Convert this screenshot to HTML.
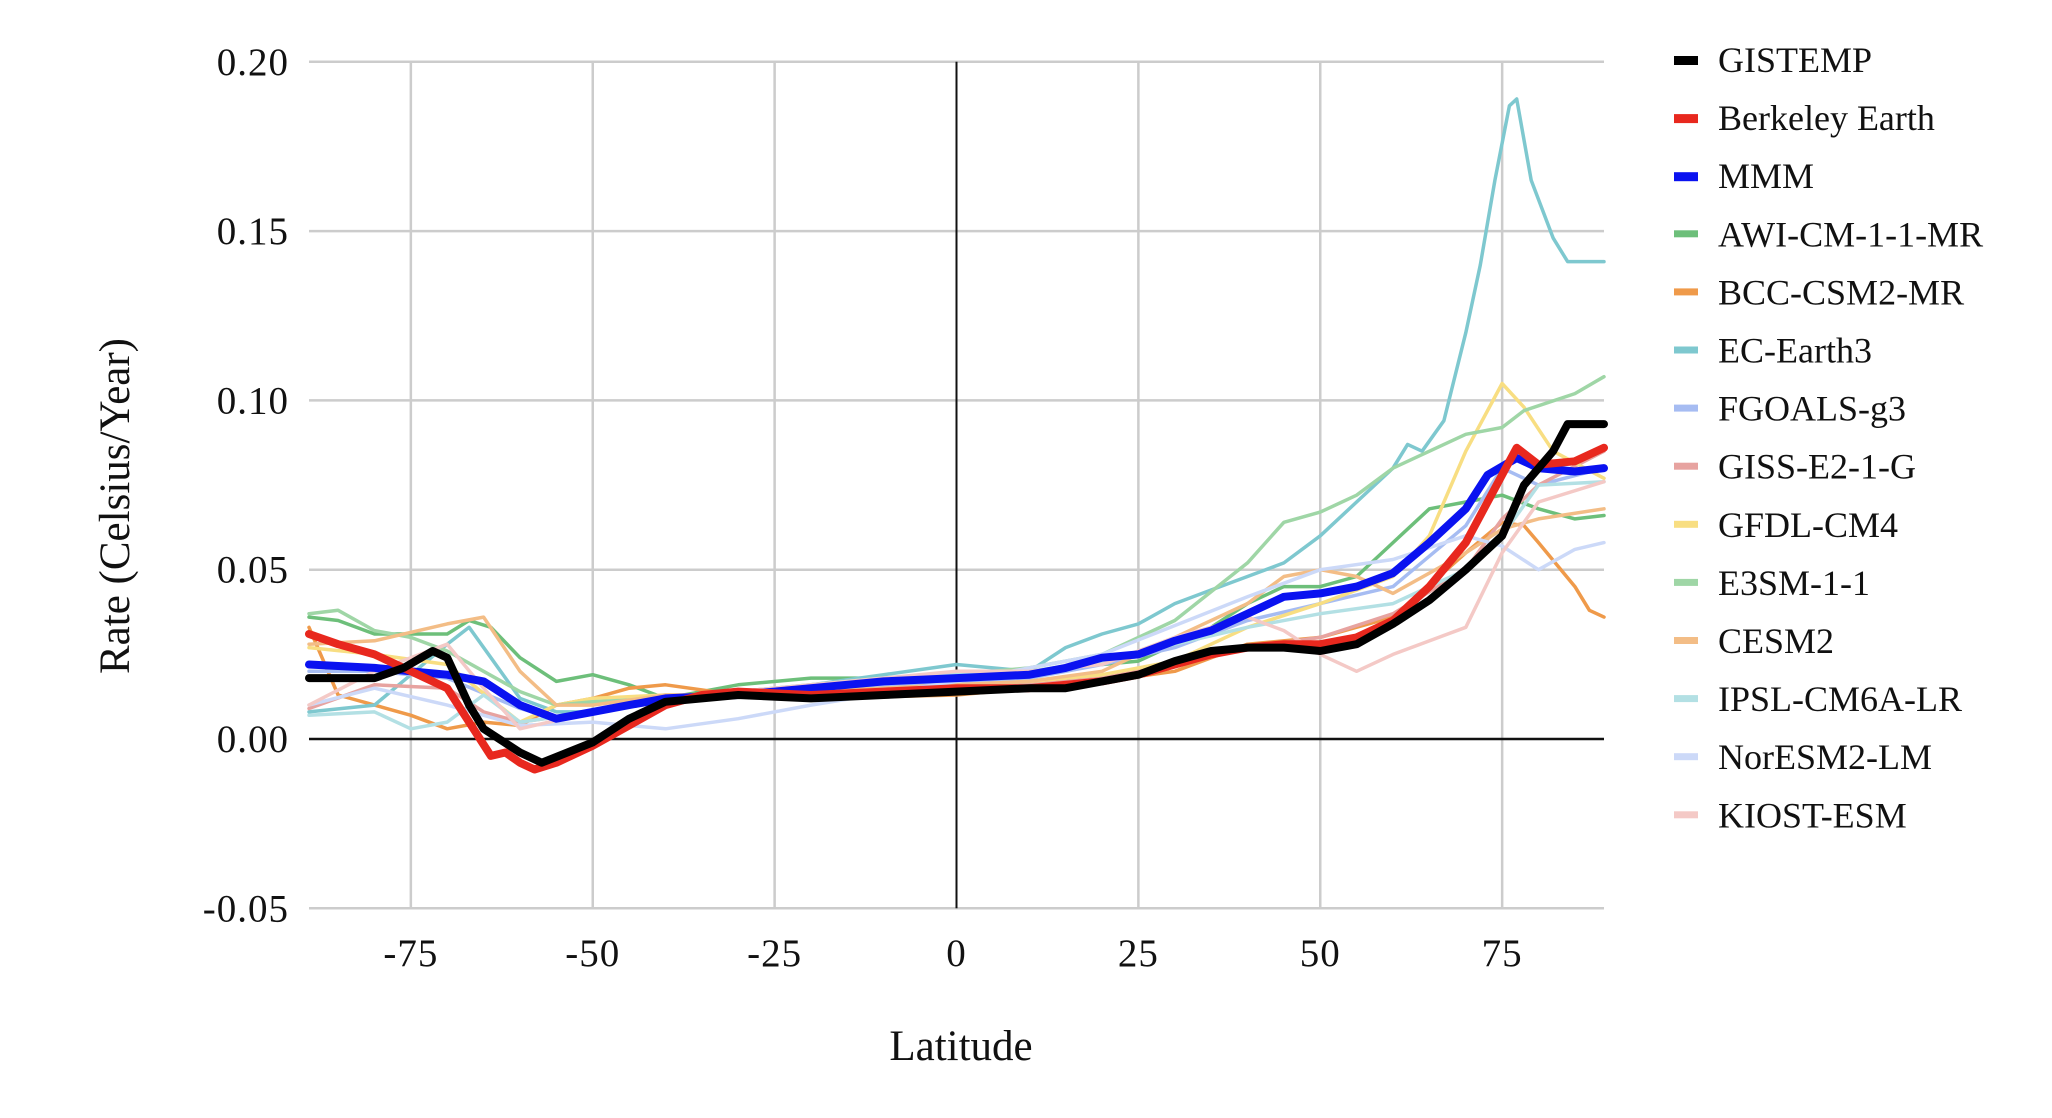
<!DOCTYPE html>
<html><head><meta charset="utf-8"><style>
body{margin:0;background:#fff;}
svg{display:block;font-family:"Liberation Serif",serif;}
</style></head><body>
<svg id="chart" width="2052" height="1118" viewBox="0 0 2052 1118">
<g id="grid"></g>
<g id="series"></g>
<g id="axes"></g>
<g id="legend"></g>
<text x="961" y="1060" font-size="43" text-anchor="middle" fill="#111">Latitude</text>
<text x="0" y="0" font-size="43" text-anchor="middle" fill="#111" transform="translate(129,506) rotate(-90)">Rate (Celsius/Year)</text>
</svg>
<script>
const xTicks=[-75,-50,-25,0,25,50,75];
const yTicks=[-0.05,0,0.05,0.10,0.15,0.20];
const yTickLabels=["-0.05","0.00","0.05","0.10","0.15","0.20"];
const seriesNames=["AWI-CM-1-1-MR","BCC-CSM2-MR","EC-Earth3","FGOALS-g3","GISS-E2-1-G","GFDL-CM4","E3SM-1-1","CESM2","IPSL-CM6A-LR","NorESM2-LM","KIOST-ESM","MMM","Berkeley Earth","GISTEMP"];
const legendOrder=["GISTEMP","Berkeley Earth","MMM","AWI-CM-1-1-MR","BCC-CSM2-MR","EC-Earth3","FGOALS-g3","GISS-E2-1-G","GFDL-CM4","E3SM-1-1","CESM2","IPSL-CM6A-LR","NorESM2-LM","KIOST-ESM"];
const lats={
"GISTEMP":[-89,-80,-76,-72,-70,-67,-65,-60,-57,-50,-45,-40,-30,-20,-10,0,10,15,20,25,30,35,40,45,50,55,60,65,70,75,78,82,84,89],
"Berkeley Earth":[-89,-85,-80,-75,-70,-67,-64,-62,-60,-58,-55,-50,-45,-40,-35,-30,-20,-10,0,10,20,25,30,35,40,45,50,55,60,65,70,75,77,80,85,89],
"MMM":[-89,-80,-75,-70,-65,-60,-55,-50,-45,-40,-30,-20,-10,0,10,15,20,25,30,35,40,45,50,55,60,65,70,73,77,80,85,89],
"EC-Earth3":[-89,-80,-75,-70,-67,-64,-60,-55,-50,-40,-30,-20,-10,0,10,15,20,25,30,35,40,45,50,55,60,62,64,67,70,72,74,76,77,79,82,84,89],
"AWI-CM-1-1-MR":[-89,-85,-80,-75,-70,-67,-64,-60,-55,-50,-45,-40,-30,-20,-10,0,10,20,25,30,35,40,45,50,55,60,65,70,75,80,85,89],
"E3SM-1-1":[-89,-85,-80,-75,-70,-65,-60,-55,-50,-40,-30,-20,-10,0,10,20,30,40,45,50,55,60,65,70,75,78,85,89],
"BCC-CSM2-MR":[-89,-85,-80,-75,-70,-65,-60,-55,-50,-45,-40,-30,-20,0,20,30,40,50,60,70,75,78,80,85,87,89],
"GFDL-CM4":[-89,-80,-70,-60,-55,-50,-40,-30,-20,-10,0,10,20,30,40,50,60,65,70,75,78,82,89],
"FGOALS-g3":[-89,-80,-70,-60,-55,-50,-40,-30,-20,-10,0,10,20,30,40,50,60,70,75,80,89],
"GISS-E2-1-G":[-89,-80,-70,-65,-60,-50,-40,-30,-20,-10,0,10,20,30,40,50,60,70,75,80,89],
"CESM2":[-89,-80,-70,-65,-60,-55,-50,-40,-30,-20,-10,0,10,20,30,40,45,50,55,60,70,75,80,89],
"IPSL-CM6A-LR":[-89,-80,-75,-70,-65,-60,-50,-40,-30,-20,-10,0,10,20,30,40,50,60,70,75,80,89],
"NorESM2-LM":[-89,-80,-70,-60,-50,-40,-30,-20,0,20,40,50,60,70,75,80,85,89],
"KIOST-ESM":[-89,-80,-70,-65,-60,-50,-40,-30,-20,-10,0,10,20,30,40,45,50,55,60,70,75,80,89]
};
const vals={
"GISTEMP":[0.018,0.018,0.021,0.026,0.024,0.01,0.003,-0.004,-0.007,-0.001,0.006,0.011,0.013,0.012,0.013,0.014,0.015,0.015,0.017,0.019,0.023,0.026,0.027,0.027,0.026,0.028,0.034,0.041,0.05,0.06,0.075,0.085,0.093,0.093],
"Berkeley Earth":[0.031,0.028,0.025,0.02,0.015,0.005,-0.005,-0.004,-0.007,-0.009,-0.007,-0.002,0.004,0.01,0.013,0.014,0.013,0.014,0.015,0.015,0.017,0.019,0.022,0.025,0.027,0.028,0.028,0.03,0.035,0.045,0.058,0.078,0.086,0.081,0.082,0.086],
"MMM":[0.022,0.021,0.02,0.019,0.017,0.01,0.006,0.008,0.01,0.012,0.013,0.015,0.017,0.018,0.019,0.021,0.024,0.025,0.029,0.032,0.037,0.042,0.043,0.045,0.049,0.058,0.068,0.078,0.083,0.08,0.079,0.08],
"EC-Earth3":[0.008,0.01,0.019,0.028,0.033,0.024,0.012,0.008,0.008,0.012,0.014,0.016,0.019,0.022,0.02,0.027,0.031,0.034,0.04,0.044,0.048,0.052,0.06,0.07,0.08,0.087,0.085,0.094,0.12,0.14,0.165,0.187,0.189,0.165,0.148,0.141,0.141],
"AWI-CM-1-1-MR":[0.036,0.035,0.031,0.031,0.031,0.035,0.033,0.024,0.017,0.019,0.016,0.012,0.016,0.018,0.018,0.018,0.02,0.022,0.023,0.028,0.033,0.04,0.045,0.045,0.048,0.058,0.068,0.07,0.072,0.068,0.065,0.066],
"E3SM-1-1":[0.037,0.038,0.032,0.03,0.026,0.02,0.014,0.01,0.011,0.012,0.013,0.016,0.018,0.019,0.021,0.025,0.035,0.052,0.064,0.067,0.072,0.08,0.085,0.09,0.092,0.097,0.102,0.107],
"BCC-CSM2-MR":[0.033,0.013,0.01,0.007,0.003,0.005,0.004,0.01,0.012,0.015,0.016,0.013,0.012,0.013,0.017,0.02,0.028,0.03,0.036,0.055,0.064,0.063,0.058,0.045,0.038,0.036],
"GFDL-CM4":[0.027,0.025,0.022,0.005,0.01,0.012,0.013,0.013,0.014,0.015,0.016,0.017,0.019,0.023,0.033,0.04,0.048,0.06,0.085,0.105,0.098,0.085,0.077],
"FGOALS-g3":[0.02,0.02,0.018,0.009,0.006,0.008,0.011,0.013,0.015,0.016,0.017,0.018,0.022,0.027,0.035,0.04,0.045,0.063,0.08,0.075,0.08],
"GISS-E2-1-G":[0.009,0.016,0.015,0.008,0.005,0.008,0.011,0.013,0.014,0.015,0.016,0.016,0.018,0.022,0.027,0.03,0.037,0.05,0.065,0.075,0.085],
"CESM2":[0.028,0.029,0.034,0.036,0.02,0.01,0.01,0.013,0.013,0.014,0.015,0.016,0.017,0.02,0.03,0.04,0.048,0.05,0.048,0.043,0.055,0.062,0.065,0.068],
"IPSL-CM6A-LR":[0.007,0.008,0.003,0.005,0.013,0.005,0.008,0.012,0.014,0.016,0.018,0.019,0.02,0.023,0.028,0.033,0.037,0.04,0.05,0.06,0.075,0.076],
"NorESM2-LM":[0.01,0.015,0.01,0.004,0.005,0.003,0.006,0.01,0.017,0.025,0.042,0.05,0.053,0.06,0.057,0.05,0.056,0.058],
"KIOST-ESM":[0.01,0.02,0.028,0.015,0.003,0.008,0.012,0.014,0.016,0.018,0.02,0.02,0.022,0.03,0.036,0.032,0.025,0.02,0.025,0.033,0.055,0.07,0.076]
};
const colors={"GISTEMP":"#000","Berkeley Earth":"#e8281e","MMM":"#0a12f0","AWI-CM-1-1-MR":"#6dbf7a","BCC-CSM2-MR":"#ef9a4a","EC-Earth3":"#7ec8cf","FGOALS-g3":"#a6bcf2","GISS-E2-1-G":"#e7a3a0","GFDL-CM4":"#f8de82","E3SM-1-1":"#9fd6a6","CESM2":"#f3bd86","IPSL-CM6A-LR":"#b3e0e4","NorESM2-LM":"#ccd9f8","KIOST-ESM":"#f4c9c6"};
const thick={"GISTEMP":1,"Berkeley Earth":1,"MMM":1};
const X0=309,X1=1604,latMin=-89,latMax=89,Y0=739,perUnit=169.3/0.05;
const xs=l=>X0+(l-latMin)/(latMax-latMin)*(X1-X0);
const ys=v=>Y0-v*perUnit;
const NS="http://www.w3.org/2000/svg";
function mk(tag,attrs,parent){const e=document.createElementNS(NS,tag);for(const k in attrs)e.setAttribute(k,attrs[k]);parent.appendChild(e);return e;}
const grid=document.getElementById('grid'),axes=document.getElementById('axes'),ser=document.getElementById('series'),leg=document.getElementById('legend');
yTicks.forEach((t,i)=>{
  if(t!==0){const g=mk('line',{x1:X0,x2:X1,y1:ys(t),y2:ys(t),stroke:'#ccc','stroke-width':2.5},grid);
  
  }
  const tx=mk('text',{x:289,y:ys(t)+13,'font-size':39,'text-anchor':'end',fill:'#111','letter-spacing':'1'},axes);tx.textContent=yTickLabels[i];
  
  
});
xTicks.forEach(t=>{
  if(t!==0){const g=mk('line',{x1:xs(t),x2:xs(t),y1:ys(0.2),y2:ys(-0.05),stroke:'#ccc','stroke-width':2.5},grid);
  
  }
  const tx=mk('text',{x:xs(t),y:966,'font-size':39,'text-anchor':'middle',fill:'#111','letter-spacing':'1'},axes);tx.textContent=String(t);
  
  
});
const za=mk('line',{x1:xs(0),x2:xs(0),y1:ys(0.2),y2:ys(-0.05),stroke:'#111','stroke-width':2},grid);


const zb=mk('line',{x1:X0,x2:X1,y1:ys(0),y2:ys(0),stroke:'#111','stroke-width':2.5},grid);


seriesNames.forEach(n=>{
  const d=lats[n].map((l,i)=>(i?'L':'M')+xs(l).toFixed(1)+','+ys(vals[n][i]).toFixed(1)).join('');
  const p=mk('path',{d:d,fill:'none',stroke:colors[n],'stroke-width':thick[n]?8:3.5,'stroke-linejoin':'round','stroke-linecap':'round'},ser);
  
  
});
legendOrder.forEach((n,i)=>{
  const y=60+i*58.1;
  const g=mk('g',{},leg);
  
  
  mk('rect',{x:1674,y:y-4,width:24,height:thick[n]?9:7,fill:colors[n]},g);
  const t=mk('text',{x:1718,y:y+12,'font-size':36,fill:'#111'},g);t.textContent=n;
});
</script>
</body></html>
